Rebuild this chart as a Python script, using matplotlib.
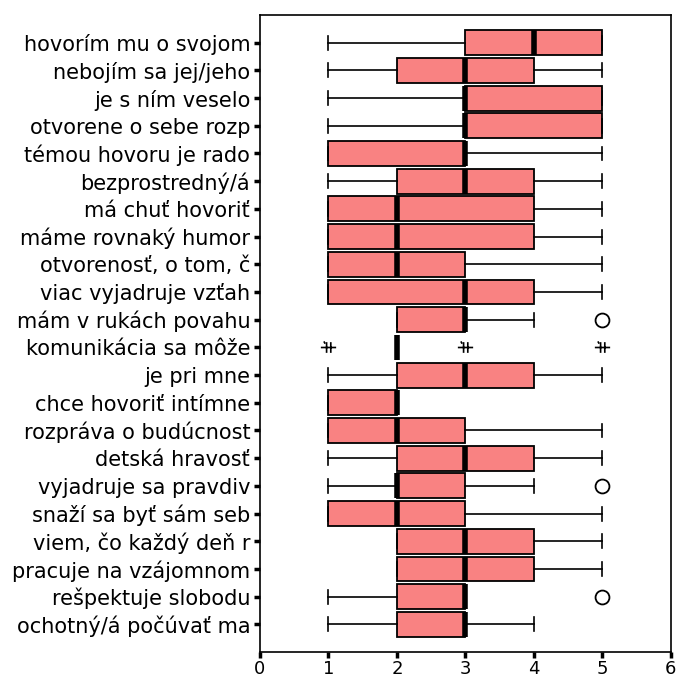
import matplotlib
matplotlib.use("Agg")
import matplotlib.pyplot as plt
from matplotlib.path import Path

categories = [
    "hovorím mu o svojom", "nebojím sa jej/jeho", "je s ním veselo",
    "otvorene o sebe rozp", "témou hovoru je rado", "bezprostredný/á",
    "má chuť hovoriť", "máme rovnaký humor", "otvorenosť, o tom, č",
    "viac vyjadruje vzťah", "mám v rukách povahu", "komunikácia sa môže",
    "je pri mne", "chce hovoriť intímne", "rozpráva o budúcnost",
    "detská hravosť", "vyjadruje sa pravdiv", "snaží sa byť sám seb",
    "viem, čo každý deň r", "pracuje na vzájomnom", "rešpektuje slobodu",
    "ochotný/á počúvať ma",
]
whislo = [1, 1, 1, 1, 1, 1, 1, 1, 1, 1, 2, 2, 1, 1, 1, 1, 1, 1, 2, 2, 1, 1]
q1     = [3, 2, 3, 3, 1, 2, 1, 1, 1, 1, 2, 2, 2, 1, 1, 2, 2, 1, 2, 2, 2, 2]
med    = [4, 3, 3, 3, 3, 3, 2, 2, 2, 3, 3, 2, 3, 2, 2, 3, 2, 2, 3, 3, 3, 3]
q3     = [5, 4, 5, 5, 3, 4, 4, 4, 3, 4, 3, 2, 4, 2, 3, 4, 3, 3, 4, 4, 3, 3]
whishi = [5, 5, 5, 5, 5, 5, 5, 5, 5, 5, 4, 2, 5, 2, 5, 5, 4, 5, 5, 5, 3, 4]
# outliers (circles) and extremes (asterisks): (row index, value)
outliers = [(11, 5), (17, 5), (21, 5)]
extremes = [(12, 1), (12, 3), (12, 5)]
xticks = [0, 1, 2, 3, 4, 5, 6]

FONT = "DejaVu Sans"
fig = plt.figure(figsize=(6.77, 6.80), dpi=100)
ax = fig.add_axes([0.384, 0.041, 0.607, 0.937])

positions = list(range(1, len(categories) + 1))
stats = []
for i in range(len(categories)):
    stats.append(dict(whislo=whislo[i], q1=q1[i], med=med[i], q3=q3[i],
                      whishi=whishi[i], fliers=[]))

ax.bxp(stats, positions=positions, orientation="horizontal", widths=0.9,
       capwidths=0.5, patch_artist=True, showfliers=False,
       boxprops=dict(facecolor="#F98282", edgecolor="black", linewidth=1.3),
       medianprops=dict(color="black", linewidth=4, solid_capstyle="butt"),
       whiskerprops=dict(color="black", linewidth=1.2),
       capprops=dict(color="black", linewidth=1.2))

ax.plot([v for _, v in outliers], [r for r, _ in outliers], linestyle="none",
        marker="o", markersize=10, markerfacecolor="white",
        markeredgecolor="black", markeredgewidth=1.3)

star = Path([(-1, 0), (1, 0), (-0.25, -0.7), (-0.25, 0.7), (0.3, -0.7), (0.3, 0.7),
             (-0.6, 0.8), (-0.45, 0.5)],
            [Path.MOVETO, Path.LINETO, Path.MOVETO, Path.LINETO, Path.MOVETO,
             Path.LINETO, Path.MOVETO, Path.LINETO])
ax.plot([v for _, v in extremes], [r for r, _ in extremes], linestyle="none",
        marker=star, markersize=11, markerfacecolor="none",
        markeredgecolor="black", markeredgewidth=1.2)

ax.set_xlim(0, 6)
ax.set_ylim(len(categories) + 1, 0)
ax.set_xticks(xticks)
ax.set_xticklabels([str(t) for t in xticks], fontsize=13, family=FONT)
ax.set_yticks(positions)
ax.set_yticklabels(categories, fontsize=15, family=FONT)
ax.tick_params(axis="both", direction="out", length=4, width=2.5, color="black")
ax.tick_params(axis="y", pad=3)
ax.tick_params(axis="x", pad=2)
for s in ax.spines.values():
    s.set_linewidth(1.2)

fig.savefig("out.png", dpi=100)
